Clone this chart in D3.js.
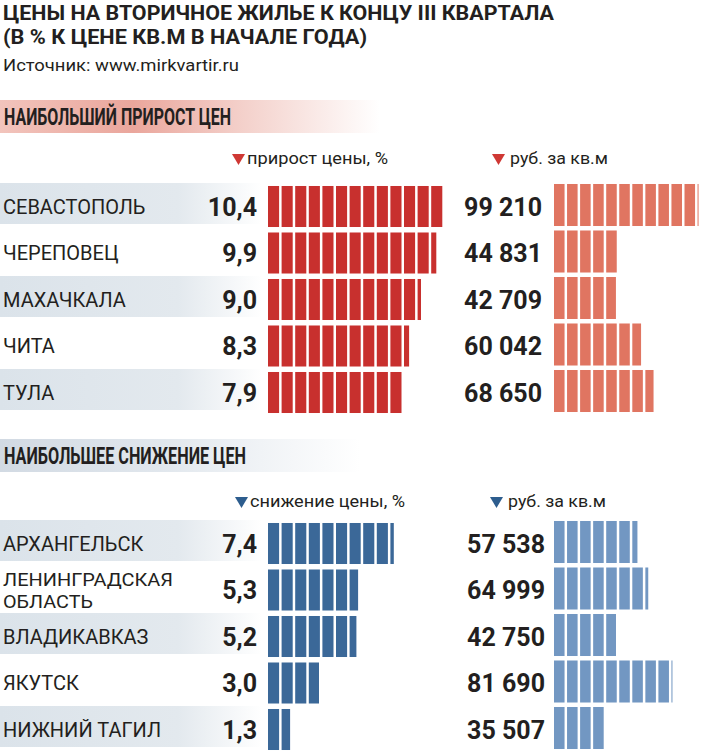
<!DOCTYPE html>
<html>
<head>
<meta charset="utf-8">
<script src="https://cdn.jsdelivr.net/npm/d3@7"></script>
<style>
  html, body { margin: 0; padding: 0; background: #fff; }
  svg { display: block; }
  text { font-family: Roboto, "Noto Sans", sans-serif; fill: #231f20; }
</style>
</head>
<body>
<svg id="chart" width="705" height="756"></svg>
<script>
// ---------- DATA ----------
const titleLines = ["ЦЕНЫ НА ВТОРИЧНОЕ ЖИЛЬЕ К КОНЦУ III КВАРТАЛА", "(В % К ЦЕНЕ КВ.М В НАЧАЛЕ ГОДА)"];
const sourceText = "Источник: www.mirkvartir.ru";

const topHeader = "НАИБОЛЬШИЙ ПРИРОСТ ЦЕН";
const topPctLabel = "прирост цены, %";
const topCities = ["СЕВАСТОПОЛЬ", "ЧЕРЕПОВЕЦ", "МАХАЧКАЛА", "ЧИТА", "ТУЛА"];
const topPct = [10.4, 9.9, 9.0, 8.3, 7.9];
const topPrice = [99210, 44831, 42709, 60042, 68650];

const bottomHeader = "НАИБОЛЬШЕЕ СНИЖЕНИЕ ЦЕН";
const bottomPctLabel = "снижение цены, %";
const bottomCities = ["АРХАНГЕЛЬСК", "ЛЕНИНГРАДСКАЯ\nОБЛАСТЬ", "ВЛАДИКАВКАЗ", "ЯКУТСК", "НИЖНИЙ ТАГИЛ"];
const bottomPct = [7.4, 5.3, 5.2, 3.0, 1.3];
const bottomPrice = [57538, 64999, 42750, 81690, 35507];

const priceLabel = "руб. за кв.м";
const pctUnit = 0.8;      // one block of the percent bars
const priceUnit = 9000;   // one block of the price bars

// ---------- DRAWING ----------
const svg = d3.select("#chart");
const defs = svg.append("defs");

function fit(sel, w) {
  sel.attr("textLength", w).attr("lengthAdjust", "spacingAndGlyphs");
  return sel;
}

function grad(id, stops) {
  const g = defs.append("linearGradient").attr("id", id)
    .attr("x1", "0%").attr("x2", "100%").attr("y1", "0%").attr("y2", "0%");
  stops.forEach(s => g.append("stop").attr("offset", s[0]).attr("stop-color", s[1]));
}
grad("hdrRed", [[0, "#f2c4bc"], [0.35, "#eaa69c"], [0.62, "#f3cec8"], [1, "#ffffff"]]);
grad("hdrBlue", [[0, "#d2dae3"], [0.45, "#e1e7ed"], [1, "#ffffff"]]);
grad("rowBand", [[0, "#dbe3ea"], [0.68, "#e3e9ee"], [1, "#ffffff"]]);

// Title
svg.append("text").attr("x", 3).attr("y", 19.5).attr("font-size", 21).attr("font-weight", 700)
  .text(titleLines[0]).call(fit, 551);
svg.append("text").attr("x", 3).attr("y", 44).attr("font-size", 21).attr("font-weight", 700)
  .text(titleLines[1]).call(fit, 364);
svg.append("text").attr("x", 3).attr("y", 71).attr("font-size", 16).attr("font-weight", 400)
  .attr("fill", "#333").text(sourceText).call(fit, 236);

const xPct = d3.scaleLinear().domain([0, 10]).range([268, 438]);
const xPrice = d3.scaleLinear().domain([0, 100000]).range([554, 699]);
const fmtPct = v => d3.format(".1f")(v).replace(".", ",");
const fmtPrice = v => d3.format(",")(v).replace(/,/g, " ");

function blocks(v, unit, scale, gap) {
  const out = [];
  const n = Math.ceil(v / unit - 1e-9);
  const xEnd = scale(v);
  for (let i = 0; i < n; i++) {
    const x0 = scale(i * unit);
    const x1 = Math.min(scale((i + 1) * unit) - gap, xEnd);
    out.push({ x: x0, w: Math.max(1, x1 - x0) });
  }
  return out;
}

function section(cfg) {
  const g = svg.append("g");
  // header band
  g.append("rect").attr("x", 0).attr("y", cfg.hdrY).attr("width", cfg.hdrBandW).attr("height", 33)
    .attr("fill", cfg.hdrFill);
  g.append("text").attr("x", 4).attr("y", cfg.hdrY + 25).attr("font-size", 23).attr("font-weight", 700)
    .text(cfg.header).call(fit, cfg.hdrTextW);

  // legend labels
  const tri = (x, y) => `M${x},${y} L${x + 13},${y} L${x + 6.5},${y + 11} Z`;
  g.append("path").attr("d", tri(cfg.leg1X, cfg.legY - 10)).attr("fill", cfg.triColor);
  g.append("text").attr("x", cfg.leg1X + 15).attr("y", cfg.legY).attr("font-size", 16)
    .text(cfg.pctLabel).call(fit, cfg.leg1W);
  g.append("path").attr("d", tri(cfg.leg2X, cfg.legY - 10)).attr("fill", cfg.triColor);
  g.append("text").attr("x", cfg.leg2X + 18).attr("y", cfg.legY).attr("font-size", 16)
    .text(priceLabel).call(fit, 98);

  const y = d3.scaleBand().domain(cfg.cities).range(cfg.yRange).paddingInner(0.118).paddingOuter(0.059);
  const bw = y.bandwidth();

  // row bands for odd rows
  g.selectAll("rect.band").data(cfg.cities.filter((d, i) => i % 2 === 0)).join("rect")
    .attr("class", "band").attr("x", 0).attr("y", d => y(d) - 3).attr("width", 262).attr("height", bw)
    .attr("fill", "url(#rowBand)");

  // names
  cfg.cities.forEach(c => {
    const lines = c.split("\n");
    const cy = y(c) + bw / 2;
    if (lines.length === 1) {
      g.append("text").attr("x", 3).attr("y", cy + 7).attr("font-size", 20).text(c);
    } else {
      const t = g.append("text").attr("x", 3).attr("font-size", 18.5);
      const widths = [170, 90];
      lines.forEach((l, k) => t.append("tspan").attr("x", 3).attr("y", cy - 4 + k * 22).text(l)
        .call(fit, widths[k]));
    }
  });

  // pct values and bars
  cfg.cities.forEach((c, i) => {
    const cy = y(c) + bw / 2;
    g.append("text").attr("x", 257).attr("y", cy + 9).attr("text-anchor", "end")
      .attr("font-size", 25).attr("font-weight", 700).text(fmtPct(cfg.pct[i]));
    g.selectAll(null).data(blocks(cfg.pct[i], pctUnit, xPct, 2.5)).join("rect")
      .attr("x", d => d.x).attr("y", y(c)).attr("width", d => d.w).attr("height", bw)
      .attr("fill", cfg.pctColor);

    g.append("text").attr("x", cfg.priceTextX).attr("y", cy + 9).attr("text-anchor", "end")
      .attr("font-size", 25).attr("font-weight", 700).text(fmtPrice(cfg.price[i]));
    g.selectAll(null).data(blocks(cfg.price[i], priceUnit, xPrice, 2.5)).join("rect")
      .attr("x", d => d.x).attr("y", y(c) - 2).attr("width", d => d.w).attr("height", bw + 1)
      .attr("fill", cfg.priceColor);
  });
}

section({
  header: topHeader, hdrY: 100, hdrBandW: 380, hdrFill: "url(#hdrRed)", hdrTextW: 227,
  pctLabel: topPctLabel, legY: 164, leg1X: 232, leg1W: 141, leg2X: 492, triColor: "#cf3834",
  cities: topCities, pct: topPct, price: topPrice, yRange: [183.25, 415.75],
  pctColor: "#c8302e", priceColor: "#e07561", priceTextX: 542
});

section({
  header: bottomHeader, hdrY: 439, hdrBandW: 360, hdrFill: "url(#hdrBlue)", hdrTextW: 242,
  pctLabel: bottomPctLabel, legY: 507, leg1X: 235, leg1W: 155, leg2X: 490, triColor: "#2d5d8e",
  cities: bottomCities, pct: bottomPct, price: bottomPrice, yRange: [520.25, 752.75],
  pctColor: "#3b6898", priceColor: "#7297c2", priceTextX: 545
});
</script>
</body>
</html>
